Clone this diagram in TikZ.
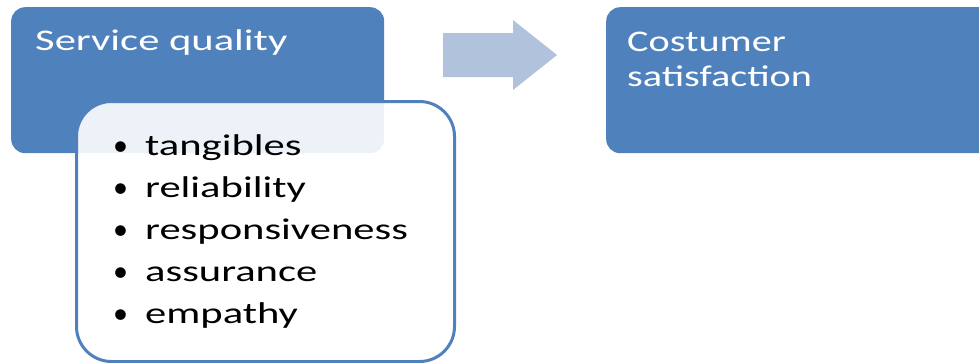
\documentclass[tikz,border=0pt]{standalone}
\usepackage{fontspec}
\setmainfont{Carlito}
\usepackage{xcolor}
\usepackage{graphicx}
\definecolor{boxblue}{HTML}{4F81BD}
\definecolor{arrowblue}{HTML}{B1C2DC}
\newcommand{\widetext}[2]{\scalebox{#1}[1]{#2}}
\tikzset{
  bluebox/.style={fill=boxblue, rounded corners=14pt, inner sep=0pt},
  listbox/.style={draw=boxblue, line width=3pt, fill=white, fill opacity=0.9, rounded corners=35pt, inner sep=0pt},
  boxtext/.style={text=white, inner sep=0pt, align=left, font=\fontsize{30}{35}\selectfont},
  itemtext/.style={text=black, inner sep=0pt, font=\fontsize{30}{36}\selectfont}
}

\begin{document}
\begin{tikzpicture}[x=1pt,y=-1pt]
    \useasboundingbox (0,0) rectangle (979,362);
    % left box with its list
    \node[bluebox, anchor=north west, minimum width=373pt, minimum height=146pt] (quality) at (11,7) {};
    \node[boxtext, anchor=base west] (qualitytext) at (35,50) {\widetext{1.42}{Service quality}};
    \node[listbox, anchor=north west, minimum width=378pt, minimum height=260pt] (list) at (75,100) {};
    \foreach [count=\i from 0] \word in {tangibles, reliability, responsiveness, assurance, empathy}
        \node[itemtext, anchor=base west] (item\i) at (113,155+42*\i) {\makebox[32pt][l]{\textbullet}\widetext{1.42}{\word}};
    % arrow
    \fill[arrowblue] (443,33) -- (513,33) -- (513,20) -- (557,55) -- (513,90) -- (513,77) -- (443,77) -- cycle;
    % right box
    \node[bluebox, anchor=north west, minimum width=390pt, minimum height=146pt] (satisfaction) at (606,7) {};
    \node[boxtext, anchor=north west] (satisfactiontext) at (627,32) {\widetext{1.34}{Costumer}\\\widetext{1.34}{satisfaction}};
\end{tikzpicture}
\end{document}
